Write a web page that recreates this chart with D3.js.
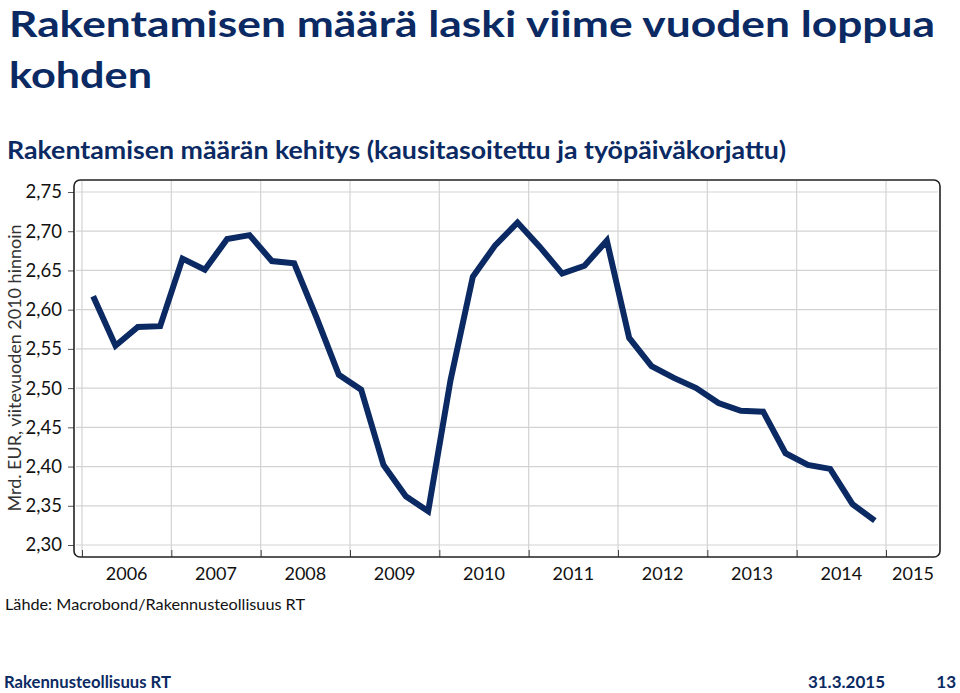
<!DOCTYPE html>
<html><head><meta charset="utf-8">
<script src="https://cdn.jsdelivr.net/npm/d3@7/dist/d3.min.js"></script>
<style>
body{margin:0;background:#fff;}
svg{display:block;font-family:Lato,"Open Sans",sans-serif;}
</style></head>
<body>
<svg id="c" width="960" height="693"></svg>
<script>
// Data: quarterly construction volume, 2006Q1 - 2014Q4
const quarters = d3.range(36).map(i => 2006 + Math.floor(i/4) + "Q" + (i%4+1));
const values = [
  2.617, 2.554, 2.578, 2.579,
  2.665, 2.651, 2.690, 2.695,
  2.662, 2.659, 2.590, 2.517,
  2.498, 2.402, 2.362, 2.343,
  2.510, 2.642, 2.682, 2.711,
  2.680, 2.646, 2.656, 2.688,
  2.564, 2.528, 2.513, 2.500,
  2.481, 2.471, 2.470, 2.417,
  2.402, 2.397, 2.352, 2.331
];
const yTicks = [2.30, 2.35, 2.40, 2.45, 2.50, 2.55, 2.60, 2.65, 2.70, 2.75];
const years = [2006, 2007, 2008, 2009, 2010, 2011, 2012, 2013, 2014, 2015];

const navy = "#0b2a63";
const svg = d3.select("#c");

// titles
svg.append("text").attr("x", 9).attr("y", 37).attr("fill", navy)
  .attr("font-weight", 700).attr("font-size", 36)
  .attr("textLength", 926).attr("lengthAdjust", "spacingAndGlyphs")
  .text("Rakentamisen määrä laski viime vuoden loppua");
svg.append("text").attr("x", 9).attr("y", 88).attr("fill", navy)
  .attr("font-weight", 700).attr("font-size", 37)
  .attr("textLength", 143).attr("lengthAdjust", "spacingAndGlyphs")
  .text("kohden");
svg.append("text").attr("x", 7).attr("y", 159).attr("fill", navy)
  .attr("font-weight", 700).attr("font-size", 24.5)
  .attr("textLength", 779).attr("lengthAdjust", "spacingAndGlyphs")
  .text("Rakentamisen määrän kehitys (kausitasoitettu ja työpäiväkorjattu)");

// scales
const x = d3.scaleLinear().domain([2006, 2015]).range([82, 886]);
const y = d3.scaleLinear().domain([2.30, 2.75]).range([545, 192]);
const box = {x0: 74, x1: 940, y0: 180, y1: 557};

svg.append("rect").attr("x", box.x0).attr("y", box.y0)
  .attr("width", box.x1 - box.x0).attr("height", box.y1 - box.y0)
  .attr("rx", 6).attr("fill", "#fff");

// horizontal gridlines
svg.append("g").selectAll("line").data(yTicks).join("line")
  .attr("x1", box.x0 + 2).attr("x2", box.x1 - 2)
  .attr("y1", d => y(d)).attr("y2", d => y(d))
  .attr("stroke", "#d3d3d3").attr("stroke-width", 1.2);
// vertical gridlines
svg.append("g").selectAll("line").data(years).join("line")
  .attr("x1", d => x(d)).attr("x2", d => x(d))
  .attr("y1", box.y0 + 1).attr("y2", box.y1 - 1)
  .attr("stroke", "#d3d3d3").attr("stroke-width", 1.2);

// y axis (ticks outside left)
const yAxis = d3.axisLeft(y).tickValues(yTicks).tickSize(6).tickPadding(6)
  .tickFormat(d => d3.format(".2f")(d).replace(".", ","));
const gy = svg.append("g").attr("transform", `translate(${box.x0},0)`).call(yAxis);
gy.select(".domain").remove();
gy.selectAll(".tick line").attr("stroke", "#555");
gy.selectAll(".tick text").attr("font-size", 18.5).attr("fill", "#111")
  .attr("font-family", "Lato,sans-serif");

// x axis ticks (inside, pointing up from bottom)
const xAxis = d3.axisTop(x).tickValues(years).tickSize(7).tickFormat("");
const gx = svg.append("g").attr("transform", `translate(0,${box.y1})`).call(xAxis);
gx.select(".domain").remove();
gx.selectAll(".tick line").attr("stroke", "#444");

// year labels centred in each year's span (clipped to box)
svg.append("g").selectAll("text").data(years).join("text")
  .attr("x", d => (x(d) + Math.min(x(d + 1), box.x1)) / 2)
  .attr("y", 580).attr("text-anchor", "middle")
  .attr("font-size", 18).attr("fill", "#111")
  .text(d => d);

// box border
svg.append("rect").attr("x", box.x0).attr("y", box.y0)
  .attr("width", box.x1 - box.x0).attr("height", box.y1 - box.y0)
  .attr("rx", 6).attr("fill", "none").attr("stroke", "#222").attr("stroke-width", 1.6);

// line
const line = d3.line()
  .x((d, i) => x(2006 + (i + 0.5) / 4))
  .y(d => y(d));
svg.append("path").datum(values).attr("d", line)
  .attr("fill", "none").attr("stroke", navy).attr("stroke-width", 6)
  .attr("stroke-linejoin", "miter").attr("stroke-miterlimit", 3);

// y axis title
svg.append("text")
  .attr("transform", "translate(21,368) rotate(-90)")
  .attr("text-anchor", "middle").attr("font-size", 17.5).attr("fill", "#333")
  .attr("textLength", 287).attr("lengthAdjust", "spacingAndGlyphs")
  .text("Mrd. EUR, viitevuoden 2010 hinnoin");

// source
svg.append("text").attr("x", 5).attr("y", 610).attr("font-size", 16).attr("fill", "#111")
  .attr("textLength", 300).attr("lengthAdjust", "spacingAndGlyphs")
  .text("Lähde: Macrobond/Rakennusteollisuus RT");

// footer
svg.append("text").attr("x", 4).attr("y", 688).attr("font-size", 17).attr("font-weight", 700)
  .attr("fill", navy).attr("textLength", 167).attr("lengthAdjust", "spacingAndGlyphs")
  .text("Rakennusteollisuus RT");
svg.append("text").attr("x", 885).attr("y", 688).attr("font-size", 17).attr("font-weight", 700)
  .attr("fill", navy).attr("text-anchor", "end")
  .text("31.3.2015");
svg.append("text").attr("x", 956).attr("y", 688).attr("font-size", 17).attr("font-weight", 700)
  .attr("fill", navy).attr("text-anchor", "end")
  .text("13");
</script>
</body></html>
